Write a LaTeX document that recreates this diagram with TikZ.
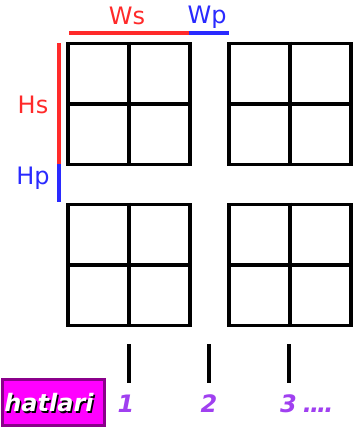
\documentclass[tikz,border=0pt]{standalone}
\usepackage{fontspec}
\setmainfont{DejaVu Sans}
\definecolor{dimred}{HTML}{FF2A2A}
\definecolor{dimblue}{HTML}{2A2AFF}
\definecolor{lblpurple}{HTML}{A040F0}
\definecolor{boxmag}{HTML}{FF00FF}
\definecolor{boxedge}{HTML}{8B008B}
\tikzset{
  gridbox/.style={draw=black,line width=3.6pt,minimum width=122pt,minimum height=121pt,inner sep=0pt},
  gridline/.style={draw=black,line width=3.6pt},
  dimline/.style={line width=4pt},
  dimtext/.style={font=\fontsize{24}{26}\selectfont,inner sep=0pt},
  tick/.style={draw=black,line width=3.2pt},
  numlbl/.style={text=lblpurple,font=\fontsize{24}{26}\selectfont\bfseries\itshape,inner sep=0pt},
  tagbox/.style={fill=boxmag,draw=boxedge,line width=3pt,minimum width=102pt,minimum height=46pt,inner sep=0pt},
  tagtext/.style={font=\fontsize{24}{26}\selectfont\bfseries\itshape,inner sep=0pt}
}
\begin{document}
\begin{tikzpicture}[x=1pt,y=-1pt]
\useasboundingbox (0,0) rectangle (360,427);
% grids
\node[gridbox] (g1) at (129,104) {};
\node[gridbox] (g2) at (290,104) {};
\node[gridbox] (g3) at (129,265) {};
\node[gridbox] (g4) at (290,265) {};
\foreach \g in {g1,g2,g3,g4}{
  \draw[gridline] (\g.north) -- (\g.south);
  \draw[gridline] (\g.west) -- (\g.east);
}
% width dimensions
\coordinate (ws0) at (69,33.5);
\coordinate (ws1) at (189,33.5);
\coordinate (wp1) at (229,33.5);
\draw[dimline,dimred] (ws0) -- (ws1);
\draw[dimline,dimblue] (ws1) -- (wp1);
\node[dimtext,text=dimred] (ws) at (127,15.5) {Ws};
\node[dimtext,text=dimblue] (wp) at (207,17.5) {Wp};
% height dimensions
\coordinate (hs0) at (58.5,43);
\coordinate (hs1) at (58.5,164);
\coordinate (hp1) at (58.5,202);
\draw[dimline,dimred] (hs0) -- (hs1);
\draw[dimline,dimblue] (hs1) -- (hp1);
\node[dimtext,text=dimred] (hs) at (33,105) {Hs};
\node[dimtext,text=dimblue] (hp) at (33,178) {Hp};
% line ticks
\coordinate (t1a) at (129,344); \coordinate (t1b) at (129,383);
\coordinate (t2a) at (209,344); \coordinate (t2b) at (209,383);
\coordinate (t3a) at (289,344); \coordinate (t3b) at (289,383);
\draw[tick] (t1a) -- (t1b);
\draw[tick] (t2a) -- (t2b);
\draw[tick] (t3a) -- (t3b);
\node[numlbl] (n1) at (126,404) {1};
\node[numlbl] (n2) at (209,404) {2};
\node[numlbl,anchor=west] (n3) at (280,404) {3\hspace{6pt}.\kern-2pt.\kern-2pt.\kern-2pt.};
% tag box
\node[tagbox] (tag) at (53,402) {};
\node[tagtext,text=black] (tagsh) at (50.5,404.5) {hatlari};
\node[tagtext,text=white] (tagt) at (49,403) {hatlari};
\end{tikzpicture}
\end{document}
